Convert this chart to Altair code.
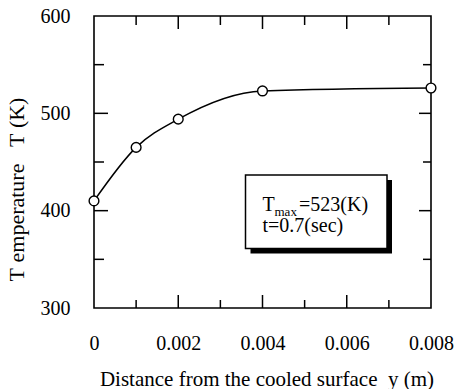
import altair as alt
import pandas as pd

# Temperature profile across the layer at t = 0.7 s
distance_m = [0.0, 0.001, 0.002, 0.004, 0.008]
temperature_k = [410, 465, 494, 523, 526]

# Axis tick values
x_labels = [0.0, 0.002, 0.004, 0.006, 0.008]
y_labels = [300, 400, 500, 600]
x_major = [0.002, 0.004, 0.006]
x_minor = [0.001, 0.003, 0.005, 0.007]
y_major = [400, 500]
y_minor = [350, 450, 550]

W, H = 337, 292
FONT = "Liberation Serif"
NB = "\u00a0"

xs = alt.Scale(domain=[0, 0.008], nice=False, zero=False)
ys = alt.Scale(domain=[300, 600], nice=False, zero=False)

profile = pd.DataFrame({"y": distance_m, "T": temperature_k})

x_axis = alt.Axis(
    values=x_labels,
    labelExpr="datum.value == 0 ? '0' : format(datum.value, '.3f')",
    ticks=False, tickSize=0, domain=False, grid=False,
    labelFont=FONT, labelFontSize=20, labelColor="black",
    labelPadding=25, labelFlush=False,
    title=f"Distance from the cooled surface{NB}{NB}y (m)",
    titleFont=FONT, titleFontSize=21, titleFontWeight="normal", titleColor="black",
    titleBaseline="alphabetic", titleY=77, titleX=W / 2 + 4,
)
y_axis = alt.Axis(
    values=y_labels,
    ticks=False, tickSize=0, domain=False, grid=False,
    labelFont=FONT, labelFontSize=20, labelColor="black",
    labelPadding=24, labelFlush=False,
    title=f"T{NB}emperature{NB}{NB}{NB}T{NB}(K)",
    titleFont=FONT, titleFontSize=22, titleFontWeight="normal", titleColor="black",
    titleAngle=270, titleAlign="center", titleBaseline="middle",
    titleX=-78, titleY=173,
)

curve = alt.Chart(profile).mark_line(
    interpolate="monotone", color="black", strokeWidth=1.5
).encode(
    x=alt.X("y:Q", scale=xs, axis=x_axis),
    y=alt.Y("T:Q", scale=ys, axis=y_axis),
)

points = alt.Chart(profile).mark_point(
    shape="circle", size=95, filled=True, fill="white",
    stroke="black", strokeWidth=1.4, opacity=1,
).encode(x=alt.X("y:Q", scale=xs), y=alt.Y("T:Q", scale=ys))


def y_ticks(values, x0, x1):
    return alt.Chart(pd.DataFrame({"v": values})).mark_rule(
        color="black", strokeWidth=1.5
    ).encode(y=alt.Y("v:Q", scale=ys), x=alt.value(x0), x2=alt.value(x1))


def x_ticks(values, y0, y1):
    return alt.Chart(pd.DataFrame({"v": values})).mark_rule(
        color="black", strokeWidth=1.5
    ).encode(x=alt.X("v:Q", scale=xs), y=alt.value(y0), y2=alt.value(y1))


# Inward-facing ticks on all four sides
ticks = [
    y_ticks(y_major, 0, 14), y_ticks(y_minor, 0, 10),
    y_ticks(y_major, W, W - 12), y_ticks(y_minor, W, W - 8),
    x_ticks(x_major, H, H - 13), x_ticks(x_minor, H, H - 8),
    x_ticks(x_major, 0, 13), x_ticks(x_minor, 0, 9),
]

# Annotation box with a drop shadow
anchor = alt.Chart(pd.DataFrame({"k": [0]}))
bx0, by0, bx1, by1 = 151.5, 159, 293, 232.5
shadow = anchor.mark_rect(color="black").encode(
    x=alt.value(bx0 + 5), x2=alt.value(bx1 + 5),
    y=alt.value(by0 + 5), y2=alt.value(by1 + 5),
)
box = anchor.mark_rect(fill="white", stroke="black", strokeWidth=1.5).encode(
    x=alt.value(bx0), x2=alt.value(bx1), y=alt.value(by0), y2=alt.value(by1),
)
t_main = anchor.mark_text(
    text="T", font=FONT, fontSize=20, align="left", baseline="alphabetic", color="black"
).encode(x=alt.value(168.5), y=alt.value(195))
t_sub = anchor.mark_text(
    text="max", font=FONT, fontSize=13, align="left", baseline="alphabetic", color="black"
).encode(x=alt.value(180.5), y=alt.value(199.5))
t_val = anchor.mark_text(
    text="=523(K)", font=FONT, fontSize=20, align="left", baseline="alphabetic", color="black"
).encode(x=alt.value(205), y=alt.value(195))
t_time = anchor.mark_text(
    text="t=0.7(sec)", font=FONT, fontSize=20, align="left", baseline="alphabetic", color="black"
).encode(x=alt.value(168.5), y=alt.value(215.5))

chart = alt.layer(
    curve, *ticks, shadow, box, t_main, t_sub, t_val, t_time, points
).properties(
    width=W, height=H,
    autosize=alt.AutoSizeParams(type="none"),
    padding={"left": 94, "top": 16, "right": 27, "bottom": 81},
    background="white",
).configure_view(
    stroke="black", strokeWidth=1.6
).configure_axis(
    labelFont=FONT, titleFont=FONT
)

chart.save("out.html", embed_options={"renderer": "svg", "actions": False})
